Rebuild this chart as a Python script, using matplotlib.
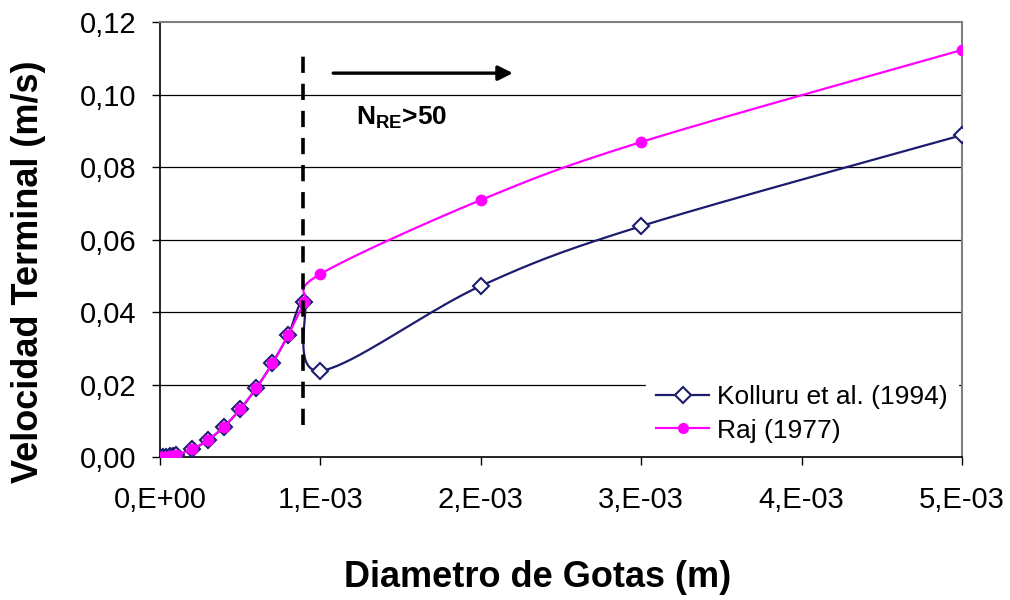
import numpy as np
import matplotlib
matplotlib.use("Agg")
import matplotlib.pyplot as plt

plt.rcParams['font.family'] = ['Liberation Sans', 'DejaVu Sans']

# datos
diam_kolluru = [0.0, 2e-5, 4e-5, 6e-5, 8e-5, 1e-4, 2e-4, 3e-4, 4e-4, 5e-4,
                6e-4, 7e-4, 8e-4, 9e-4, 1e-3, 2e-3, 3e-3, 5e-3]
vel_kolluru = [0.0, 0.00002, 0.00008, 0.0002, 0.00034, 0.00053, 0.0021, 0.0047,
               0.0084, 0.0132, 0.0190, 0.0258, 0.0337, 0.0427, 0.0238, 0.0472,
               0.0637, 0.0888]
diam_raj = [0.0, 2e-5, 4e-5, 6e-5, 8e-5, 1e-4, 2e-4, 3e-4, 4e-4, 5e-4,
            6e-4, 7e-4, 8e-4, 9e-4, 1e-3, 2e-3, 3e-3, 5e-3]
vel_raj = [0.0, 0.00002, 0.00008, 0.0002, 0.00034, 0.00053, 0.0021, 0.0047,
           0.0084, 0.0132, 0.0190, 0.0258, 0.0337, 0.0427, 0.0505, 0.0709,
           0.0869, 0.1123]

x_ticks = [0, 1e-3, 2e-3, 3e-3, 4e-3, 5e-3]
x_ticklabels = ["0,E+00", "1,E-03", "2,E-03", "3,E-03", "4,E-03", "5,E-03"]
y_ticks = [0.0, 0.02, 0.04, 0.06, 0.08, 0.10, 0.12]
y_ticklabels = ["0,00", "0,02", "0,04", "0,06", "0,08", "0,10", "0,12"]

x_lim = (0, 5e-3)
y_lim = (0, 0.12)
re_limit = 8.9e-4  # linea de N_RE = 50


def smooth(xs, ys, sx, sy, n=40):
    # suavizado tipo Excel (bezier con tangentes de los vecinos), en pixeles
    pts = np.column_stack([np.array(xs) * sx, np.array(ys) * sy])
    out = [pts[0]]
    for i in range(len(pts) - 1):
        p0 = pts[i]
        p3 = pts[i + 1]
        prev = pts[i - 1] if i > 0 else p0
        nxt = pts[i + 2] if i + 2 < len(pts) else p3
        c1 = p0 + (p3 - prev) / 6.0
        c2 = p3 - (nxt - p0) / 6.0
        t = np.linspace(0, 1, n)[1:, None]
        seg = ((1 - t)**3 * p0 + 3 * (1 - t)**2 * t * c1
               + 3 * (1 - t) * t**2 * c2 + t**3 * p3)
        out.extend(seg)
    out = np.array(out)
    return out[:, 0] / sx, out[:, 1] / sy


fig = plt.figure(figsize=(10.1, 6), dpi=100)
ax = fig.add_axes([0.1584, 0.2383, 0.7941, 0.725])

# escala en pixeles para el suavizado
sx = 802 / (x_lim[1] - x_lim[0])
sy = 435 / (y_lim[1] - y_lim[0])

navy = '#1c1c6e'
mag = '#ff00ff'

kx, ky = smooth(diam_kolluru, vel_kolluru, sx, sy)
ax.plot(kx, ky, color=navy, lw=1.6, zorder=3)
ax.plot(diam_kolluru, vel_kolluru, ls='none', marker='D', ms=8.5,
        mfc='white', mec=navy, mew=1.5, zorder=4)

rx, ry = smooth(diam_raj, vel_raj, sx, sy)
ax.plot(rx, ry, color=mag, lw=1.6, zorder=5)
ax.plot(diam_raj, vel_raj, ls='none', marker='o', ms=7.5,
        mfc=mag, mec=mag, zorder=6)

# handles de la leyenda
h1, = ax.plot([], [], color=navy, lw=1.6, marker='D', ms=8.5, mfc='white',
              mec=navy, mew=1.5)
h2, = ax.plot([], [], color=mag, lw=1.6, marker='o', ms=7, mfc=mag, mec=mag)

# linea vertical discontinua
ax.plot([re_limit, re_limit], [0.0088, 0.1123], color='black', lw=2.6,
        ls=(0, (4.5, 3)), zorder=7)

# flecha y texto
ax.annotate('', xy=(2.2e-3, 0.1059), xytext=(1.08e-3, 0.1059),
            arrowprops=dict(arrowstyle='-|>', color='black', lw=2.4,
                            mutation_scale=22, shrinkA=0, shrinkB=0))
ax.text(1.22e-3, 0.0935, r'N$_{\mathregular{RE}}$>50', fontsize=19,
        fontweight='bold', va='center', ha='left')

ax.set_xlim(*x_lim)
ax.set_ylim(*y_lim)
ax.set_xticks(x_ticks)
ax.set_xticklabels(x_ticklabels)
ax.set_yticks(y_ticks)
ax.set_yticklabels(y_ticklabels)
ax.tick_params(axis='both', direction='out', length=6, width=1,
               labelsize=21, colors='black')
ax.tick_params(axis='y', pad=11)
ax.tick_params(axis='x', pad=15)

for y in y_ticks[1:-1]:
    ax.axhline(y, color='black', lw=0.9, zorder=1)

ax.spines['left'].set_color('black')
ax.spines['bottom'].set_color('black')
ax.spines['left'].set_linewidth(1.2)
ax.spines['bottom'].set_linewidth(1.2)
ax.spines['top'].set_color('#808080')
ax.spines['right'].set_color('#808080')
ax.spines['top'].set_linewidth(1.5)
ax.spines['right'].set_linewidth(1.5)

leg = ax.legend([h1, h2], ['Kolluru et al. (1994)', 'Raj (1977)'],
                loc='lower right', bbox_to_anchor=(1.0, 0.0), fontsize=19,
                frameon=True, fancybox=False, framealpha=1.0,
                edgecolor='white', facecolor='white', handlelength=2.0,
                handletextpad=0.3, labelspacing=0.35, borderpad=0.4,
                borderaxespad=0.15)
leg.set_zorder(8)

fig.text(0.028, 0.547, 'Velocidad Terminal (m/s)', rotation=90,
         fontsize=26, fontweight='bold', ha='center', va='center')
fig.text(0.532, 0.037, 'Diametro de Gotas (m)', fontsize=26,
         fontweight='bold', ha='center', va='center')

fig.savefig('out.png', dpi=100)
